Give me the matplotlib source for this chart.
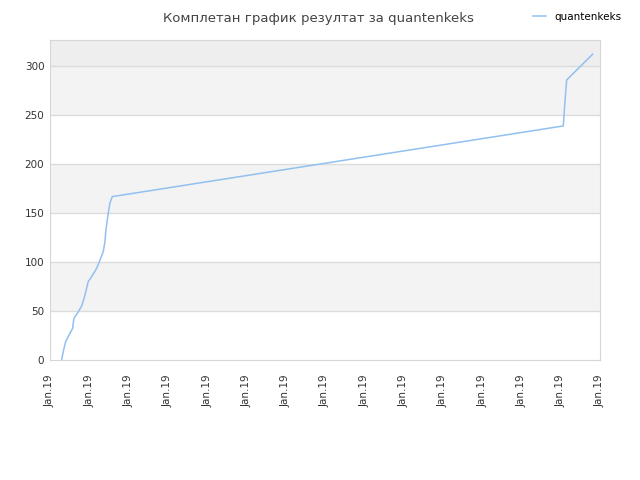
import matplotlib
matplotlib.use('Agg')
import matplotlib.pyplot as plt

# data (x in tick steps, all ticks labelled Jan.19)
x_vals = [0.298, 0.339, 0.40, 0.44, 0.578, 0.611, 0.72, 0.807, 0.891, 0.975,
          1.061, 1.189, 1.255, 1.357, 1.40, 1.425, 1.484, 1.527, 1.586,
          13.065, 13.108, 13.151, 13.813]
scores = [0, 8.5, 18.7, 22, 32.3, 42.5, 49, 55, 66, 80,
          85, 93.5, 100, 110.5, 120.7, 132.6, 149.7, 160, 166.7,
          238.8, 263.6, 285.7, 312]
tick_pos = list(range(15))
tick_labels = ['Jan.19'] * 15
y_ticks = [0, 50, 100, 150, 200, 250, 300]

fig = plt.figure(figsize=(6.4, 4.8), dpi=100)
ax = fig.add_axes([0.078, 0.25, 0.8595, 0.6667])

# alternating bands
for i, lo in enumerate(y_ticks):
    if i % 2 == 1:
        ax.axhspan(lo, lo + 50, color='#f3f3f3', zorder=0, lw=0)
ax.axhspan(300, 330, color='#eeeeee', zorder=0, lw=0)
for y in y_ticks[1:]:
    ax.axhline(y, color='#dcdcdc', lw=1, zorder=1)

ax.plot(x_vals, scores, color='#92c0f0', lw=1.1, label='quantenkeks', zorder=3)

ax.set_xlim(0, 14)
ax.set_ylim(0, 326.5)
ax.set_xticks(tick_pos)
ax.set_xticklabels(tick_labels, rotation=90, fontsize=7.5, color='#333333')
ax.set_yticks(y_ticks)
ax.set_yticklabels([str(v) for v in y_ticks], fontsize=7.5, color='#333333')
ax.tick_params(length=0, pad=4)
ax.tick_params(axis='x', pad=10)
for s in ax.spines.values():
    s.set_color('#d6d6d6')

fig.text(0.497, 0.975, 'Комплетан график резултат за quantenkeks', ha='center', va='top',
         fontsize=9.5, color='#444444')
fig.legend(loc='upper right', bbox_to_anchor=(0.985, 0.995), frameon=False, fontsize=7.5,
           handlelength=1.2)

fig.savefig('out.png')
